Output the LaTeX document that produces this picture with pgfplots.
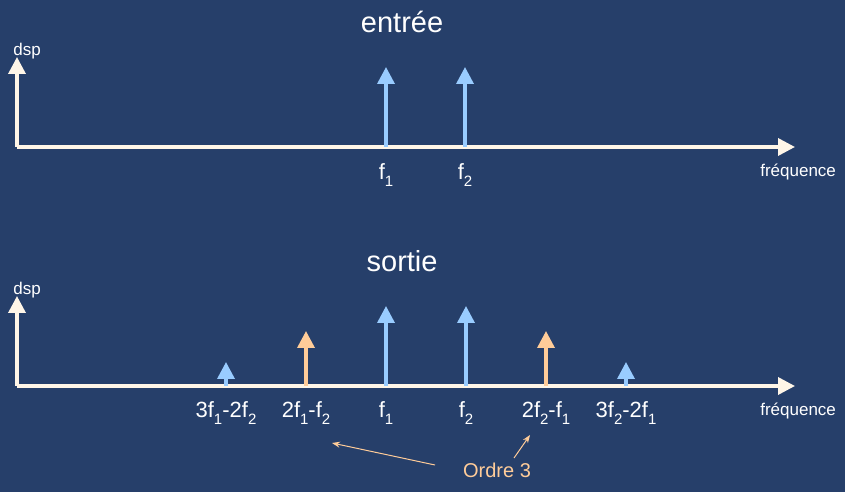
\documentclass[border=0pt]{standalone}
\usepackage{fontspec}
\setmainfont{Liberation Sans}
\usepackage{pgfplots}
\pgfplotsset{compat=1.18}
\usetikzlibrary{arrows.meta}
\definecolor{bgblue}{RGB}{38,63,106}
\definecolor{cream}{RGB}{255,246,232}
\definecolor{lblue}{RGB}{153,204,255}
\definecolor{lorange}{RGB}{255,204,153}
\newcommand\sub[1]{\raisebox{-0.32em}{\fontsize{15}{17}\selectfont #1}}
\pgfplotsset{spec/.style={
  scale only axis, width=778pt, height=90pt,
  xmin=0, xmax=778, ymin=0, ymax=90,
  axis lines=left,
  axis line style={line width=3.5pt, cream, -{Triangle[width=17pt,length=17pt]}},
  ytick=\empty, major tick length=0pt, clip=false,
  xticklabel style={font=\fontsize{22}{25}\selectfont, white, anchor=center, yshift=-28pt},
  every axis x label/.style={at={(axis description cs:1.004,-0.28)}, anchor=center, font=\fontsize{17}{20}\selectfont, white},
  every axis y label/.style={at={(axis description cs:0.013,1.07)}, anchor=center, font=\fontsize{17}{20}\selectfont, white},
  every axis title/.style={at={(axis description cs:0.495,1.385)}, anchor=center, font=\fontsize{29}{33}\selectfont, white},
  xlabel={fréquence}, ylabel={dsp},
}}
\begin{document}
\begin{tikzpicture}
\useasboundingbox (0,0) rectangle (845pt,492pt);
\fill[bgblue] (0,0) rectangle (845pt,492pt);
% top axis: entree
\begin{axis}[spec, at={(17pt,345pt)}, anchor=south west, title={entrée},
  xtick={369,448}, xticklabels={f\sub{1},f\sub{2}}]
\addplot[lblue, line width=3.5pt, quiver={u=0, v=\thisrow{v}, every arrow/.append style={-{Triangle[width=17pt,length=17pt]}}}, -{Triangle[width=17pt,length=17pt]}]
  table {
x y v
369 0 80
448 0 80
};
\end{axis}
% bottom axis: sortie
\begin{axis}[spec, at={(17pt,106pt)}, anchor=south west, title={sortie},
  xticklabel style={yshift=1pt},
  xtick={209,289,369,449,529,609},
  xticklabels={3f\sub{1}-2f\sub{2},2f\sub{1}-f\sub{2},f\sub{1},f\sub{2},2f\sub{2}-f\sub{1},3f\sub{2}-2f\sub{1}}]
\addplot[lblue, line width=3.5pt, quiver={u=0, v=\thisrow{v}, every arrow/.append style={-{Triangle[width=17pt,length=17pt]}}}, -{Triangle[width=17pt,length=17pt]}]
  table {
x y v
209 0 24
369 0 80
449 0 80
609 0 24
};
\addplot[lorange, line width=3.5pt, quiver={u=0, v=\thisrow{v}, every arrow/.append style={-{Triangle[width=17pt,length=17pt]}}}, -{Triangle[width=17pt,length=17pt]}]
  table {
x y v
289 0 55
529 0 55
};
\draw[lorange, line width=1pt, -{Stealth[length=8pt,width=6pt]}] (axis cs:418,-79) -- (axis cs:315,-57);
\draw[lorange, line width=1pt, -{Stealth[length=8pt,width=6pt]}] (axis cs:497,-72) -- (axis cs:513,-49);
\node[lorange, font=\fontsize{20}{24}\selectfont, anchor=center] at (axis cs:480,-84) {Ordre 3};
\end{axis}
\end{tikzpicture}
\end{document}
